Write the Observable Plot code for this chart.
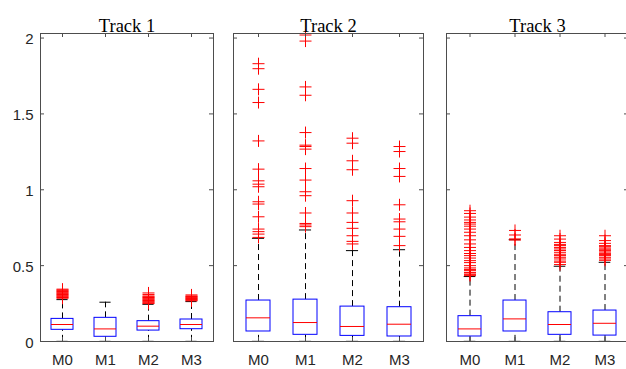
<!DOCTYPE html>
<html>
<head>
<meta charset="utf-8">
<script src="https://cdn.jsdelivr.net/npm/d3@7"></script>
<script src="https://cdn.jsdelivr.net/npm/@observablehq/plot@0.6"></script>
<style>
  body { margin: 0; background: white; }
  #wrap { position: relative; width: 626px; height: 369px; overflow: hidden; background: white; }
  #wrap svg { position: absolute; top: 0; }
</style>
</head>
<body>
<div id="wrap"></div>
<script>
const tracks = ["Track 1", "Track 2", "Track 3"];
const models = ["M0", "M1", "M2", "M3"];
const yTicks = [0, 0.5, 1, 1.5, 2];
const yTickLabels = ["0", "0.5", "1", "1.5", "2"];

// box statistics per track (rows) and model (columns)
const q1 = [
  [0.077, 0.031, 0.072, 0.081],
  [0.066, 0.044, 0.037, 0.033],
  [0.033, 0.066, 0.044, 0.039]
];
const med = [
  [0.112, 0.083, 0.101, 0.112],
  [0.156, 0.125, 0.099, 0.114],
  [0.083, 0.149, 0.112, 0.120]
];
const q3 = [
  [0.149, 0.156, 0.134, 0.145],
  [0.270, 0.276, 0.230, 0.226],
  [0.167, 0.270, 0.193, 0.204]
];
const whiskLo = [
  [0.001, 0.001, 0.001, 0.001],
  [0.001, 0.001, 0.001, 0.001],
  [0.001, 0.001, 0.001, 0.001]
];
const whiskHi = [
  [0.276, 0.259, 0.245, 0.263],
  [0.680, 0.735, 0.599, 0.605],
  [0.428, 0.671, 0.496, 0.522]
];

// outliers
const outT1 = [
  [0.285, 0.29, 0.295, 0.30, 0.305, 0.31, 0.315, 0.32, 0.325, 0.33, 0.335, 0.34, 0.345],
  [],
  [0.25, 0.255, 0.26, 0.265, 0.27, 0.275, 0.28, 0.285, 0.29, 0.295, 0.30, 0.31, 0.32],
  [0.268, 0.272, 0.276, 0.28, 0.284, 0.288, 0.292, 0.296, 0.30, 0.307]
];
const outT2 = [
  [1.831, 1.798, 1.662, 1.575, 1.322, 1.136, 1.059, 1.037, 1.020, 0.921, 0.906, 0.822, 0.741, 0.724, 0.708, 0.686],
  [2.02, 1.98, 1.678, 1.623, 1.377, 1.294, 1.285, 1.268, 1.140, 1.064, 0.987, 0.961, 0.847, 0.778, 0.768, 0.757],
  [1.340, 1.307, 1.191, 1.132, 0.928, 0.847, 0.785, 0.746, 0.697, 0.660, 0.643],
  [1.285, 1.252, 1.140, 1.088, 0.901, 0.807, 0.789, 0.741, 0.693, 0.632]
];
const outT3 = [
  [0.862, 0.844, 0.82, 0.801, 0.785, 0.774, 0.76, 0.741, 0.72, 0.697, 0.67, 0.643, 0.62, 0.599, 0.58, 0.566, 0.55, 0.533, 0.52, 0.50, 0.485, 0.475, 0.467, 0.455, 0.445, 0.44, 0.434],
  [0.732, 0.702, 0.676, 0.669],
  [0.697, 0.675, 0.653, 0.64, 0.632, 0.62, 0.61, 0.60, 0.588, 0.575, 0.566, 0.555, 0.544, 0.53, 0.522, 0.507],
  [0.697, 0.665, 0.647, 0.632, 0.625, 0.616, 0.608, 0.599, 0.59, 0.581, 0.574, 0.566, 0.555, 0.544, 0.535]
];
const outliers = [outT1, outT2, outT3];

// layout of the three panels
const layout = [
  {left: 0,   width: 216, ml: 40, mr: 3},
  {left: 216, width: 210, ml: 17, mr: 3},
  {left: 426, width: 205, ml: 20, mr: 3}
];
const H = 369, MT = 33, MB = 28;
const axisColor = "#4d4d4d";

const plusSymbol = {
  draw(ctx, size) {
    const r = Math.sqrt(size / Math.PI);
    ctx.moveTo(-r, 0); ctx.lineTo(r, 0);
    ctx.moveTo(0, -r); ctx.lineTo(0, r);
  }
};

const wrap = document.getElementById("wrap");

tracks.forEach((track, t) => {
  const L = layout[t];
  const pw = L.width - L.ml - L.mr;
  const ph = H - MT - MB;
  const bw = pw / 4 * 0.5;
  const stats = models.map((m, i) => ({
    model: m, q1: q1[t][i], med: med[t][i], q3: q3[t][i], lo: whiskLo[t][i], hi: whiskHi[t][i]
  }));
  const outs = models.flatMap((m, i) => outliers[t][i].map(v => ({model: m, v})));

  const marks = [
    Plot.ruleX(stats, {x: "model", y1: "q3", y2: "hi", stroke: "black", strokeDasharray: "6,4"}),
    Plot.ruleX(stats, {x: "model", y1: "lo", y2: "q1", stroke: "black", strokeDasharray: "6,4"}),
    Plot.barY(stats, {x: "model", y1: "q1", y2: "q3", fill: "white", stroke: "#0000ff"}),
    Plot.tickY(stats, {x: "model", y: "med", stroke: "#ff0000"}),
    Plot.tickY(stats, {x: "model", y: "hi", stroke: "black", inset: bw / 4}),
    Plot.tickY(stats, {x: "model", y: "lo", stroke: "black", inset: bw / 4}),
    Plot.dot(outs, {x: "model", y: "v", symbol: plusSymbol, r: 6, stroke: "#ff0000", fill: "none", strokeWidth: 1}),
    Plot.frame({stroke: axisColor}),
    Plot.ruleX(models, {x: d => d, insetTop: ph - 4, stroke: axisColor}),
    Plot.ruleX(models, {x: d => d, insetBottom: ph - 4, stroke: axisColor}),
    Plot.ruleY(yTicks, {y: d => d, insetRight: pw - 4, stroke: axisColor}),
    Plot.ruleY(yTicks, {y: d => d, insetLeft: pw - 4, stroke: axisColor}),
    Plot.axisX({tickSize: 0, tickPadding: 13, label: null, fontSize: 15}),
    Plot.text([track], {text: d => d, frameAnchor: "top", dy: -14.4, fontFamily: "Liberation Serif, Times New Roman, serif", fontSize: 18.5, fill: "black"})
  ];
  if (t === 0) {
    marks.push(Plot.axisY({ticks: yTicks, tickFormat: (d, i) => yTickLabels[yTicks.indexOf(d)], tickSize: 0, tickPadding: 7, label: null, fontSize: 15, dy: 1.5}));
  }

  const svg = Plot.plot({
    width: L.width,
    height: H,
    marginTop: MT,
    marginBottom: MB,
    marginLeft: L.ml,
    marginRight: L.mr,
    x: {type: "band", domain: models, paddingInner: 0.5, paddingOuter: 0.25, axis: null},
    y: {domain: [0, 2.03], axis: null},
    style: {fontFamily: "Liberation Sans, Arial, sans-serif", fontSize: "15px", color: "#262626", background: "transparent", overflow: "visible"},
    marks
  });
  svg.style.left = L.left + "px";
  wrap.appendChild(svg);
});
</script>
</body>
</html>
